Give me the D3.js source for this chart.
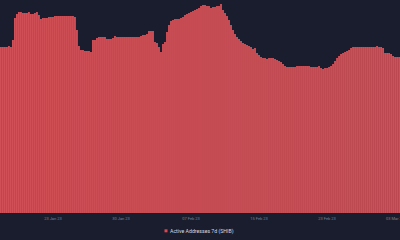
<!DOCTYPE html>
<html>
<head>
<meta charset="utf-8">
<script src="https://cdn.jsdelivr.net/npm/d3@7"></script>
<style>
  html, body { margin: 0; padding: 0; background: #1a1d2d; }
  svg { display: block; }
</style>
</head>
<body>
<div id="chart"></div>
<script>
// Active addresses 7d (SHIB) (relative units)
var values = [
  166, 166, 166, 166, 167, 166, 173, 195, 199, 201,
  201, 200, 200, 200, 201, 199, 199, 200, 201, 198,
  194, 195, 195, 195, 196, 196, 196, 197, 197, 197,
  197, 197, 197, 197, 197, 197, 197, 196, 183, 167,
  163, 163, 162, 162, 162, 161, 173, 173, 175, 176,
  176, 176, 176, 174, 174, 174, 175, 177, 176, 176,
  176, 176, 176, 176, 176, 176, 176, 176, 176, 176,
  177, 178, 178, 179, 182, 182, 182, 171, 170, 166,
  161, 169, 171, 181, 188, 192, 193, 194, 194, 194,
  195, 196, 198, 199, 200, 201, 202, 203, 204, 205,
  207, 208, 208, 207, 207, 205, 206, 206, 207, 207,
  209, 203, 200, 197, 193, 188, 183, 179, 176, 174,
  172, 170, 169, 168, 167, 166, 164, 165, 160, 158,
  156, 155, 155, 154, 155, 155, 155, 154, 153, 152,
  151, 149, 147, 146, 146, 146, 146, 146, 147, 147,
  147, 147, 147, 147, 147, 146, 146, 146, 146, 147,
  145, 144, 145, 145, 146, 147, 149, 152, 155, 157,
  159, 160, 161, 162, 163, 165, 166, 166, 166, 166,
  166, 166, 166, 166, 166, 166, 166, 166, 167, 166,
  166, 165, 160, 160, 160, 159, 157, 156, 156, 156
];

// category index where each date label sits, and the label text
var tickIndex = [26, 60, 95, 129, 163, 197];
var tickLabels = ["23 Jan 23", "30 Jan 23", "07 Feb 23", "15 Feb 23", "23 Feb 23", "03 Mar 23"];

var seriesName = "Active Addresses 7d (SHIB)";
var barColor = "#d14f56";

var svgWidth = 400;
var svgHeight = 240;
var margin = { top: 0, right: 0, bottom: 27, left: 0 };
var width = svgWidth - margin.left - margin.right;
var height = svgHeight - margin.top - margin.bottom;

var svg = d3.select("#chart")
  .append("svg")
  .attr("width", svgWidth)
  .attr("height", svgHeight);

svg.append("rect")
  .attr("width", svgWidth)
  .attr("height", svgHeight)
  .attr("fill", "#1a1d2d");

var chartGroup = svg.append("g")
  .attr("transform", `translate(${margin.left}, ${margin.top})`);

var xBand = d3.scaleBand()
  .domain(d3.range(values.length))
  .range([0, width])
  .paddingInner(0.06)
  .paddingOuter(0);

var yLinear = d3.scaleLinear()
  .domain([0, 213])
  .range([height, 0]);

// bars
chartGroup.selectAll("rect.bar")
  .data(values)
  .enter()
  .append("rect")
  .attr("class", "bar")
  .attr("x", (d, i) => xBand(i))
  .attr("y", d => yLinear(d))
  .attr("width", xBand.bandwidth())
  .attr("height", d => height - yLinear(d))
  .attr("fill", barColor);

// x axis
var bottomAxis = d3.axisBottom(xBand)
  .tickValues(tickIndex)
  .tickFormat((d, i) => tickLabels[i])
  .tickSize(0)
  .tickPadding(4);

var xAxis = chartGroup.append("g")
  .attr("transform", `translate(0, ${height})`)
  .call(bottomAxis);

xAxis.select(".domain").remove();
xAxis.selectAll("text")
  .attr("fill", "#7b8194")
  .style("font-family", "Roboto, 'DejaVu Sans', sans-serif")
  .style("font-size", "4px");

// legend
var legend = svg.append("g")
  .attr("transform", `translate(164.5, 231)`);

legend.append("rect")
  .attr("x", 0)
  .attr("y", -1.7)
  .attr("width", 3)
  .attr("height", 3)
  .attr("fill", "#e0444d");

legend.append("text")
  .attr("x", 5.5)
  .attr("y", 0)
  .attr("dy", "0.35em")
  .attr("fill", "#d6d8e0")
  .style("font-family", "Roboto, 'DejaVu Sans', sans-serif")
  .style("font-size", "5.2px")
  .text(seriesName);
</script>
</body>
</html>
